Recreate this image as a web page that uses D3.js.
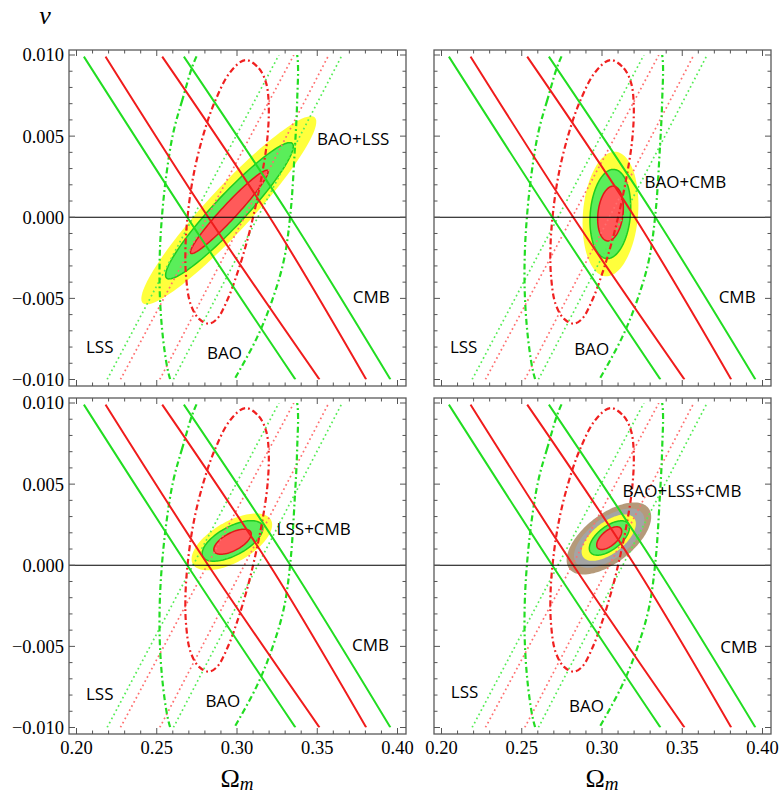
<!DOCTYPE html>
<html>
<head>
<meta charset="utf-8">
<script src="https://cdn.jsdelivr.net/npm/d3@7"></script>
<style>
body { margin: 0; background: #fff; }
</style>
</head>
<body>
<svg id="chart" width="781" height="795"></svg>
<script>
// tick labels
var xTicks = [0.20, 0.25, 0.30, 0.35, 0.40];
var yTicks = [-0.010, -0.005, 0.000, 0.005, 0.010];

// CMB band, solid lines: [Omega_m, nu]
var cmbGreenLeft  = [[0.2046, 0.0099], [0.2690, 0.0], [0.3364, -0.010]];
var cmbRedLeft    = [[0.2181, 0.0099], [0.2821, 0.0], [0.3514, -0.010]];
var cmbRedRight   = [[0.2534, 0.0099], [0.3204, 0.0], [0.3805, -0.010]];
var cmbGreenRight = [[0.2669, 0.0099], [0.3333, 0.0], [0.3956, -0.010]];

// LSS band, dotted lines
var lssGreenLeft  = [[0.2191, -0.010], [0.3261, 0.010]];
var lssRedLeft    = [[0.2274, -0.010], [0.3354, 0.010]];
var lssRedRight   = [[0.2519, -0.010], [0.3572, 0.010]];
var lssGreenRight = [[0.2604, -0.010], [0.3655, 0.010]];

// BAO contours, dot-dashed
var baoRed = [[0.3053, 0.00969], [0.3136, 0.00918], [0.3182, 0.00825], [0.3198, 0.00681],
  [0.3188, 0.00475], [0.3157, 0.0027], [0.3115, 0.00064], [0.3064, -0.00142],
  [0.3001, -0.00348], [0.2939, -0.00512], [0.2877, -0.00625], [0.2824, -0.00656],
  [0.2762, -0.00625], [0.2710, -0.00533], [0.2683, -0.00369], [0.2679, -0.00183],
  [0.2694, 0.00023], [0.2731, 0.0027], [0.2793, 0.00517], [0.2866, 0.00722], [0.2960, 0.00897]];
var baoGreen = [[0.2752, 0.0100], [0.2659, 0.00722], [0.2602, 0.00517], [0.2561, 0.0027],
  [0.2534, 0.00023], [0.2519, -0.00224], [0.2519, -0.00471], [0.2536, -0.00718],
  [0.2565, -0.00924], [0.2586, -0.01006], [0.2640, -0.0115], [0.2760, -0.0122],
  [0.2900, -0.0114], [0.2980, -0.01006], [0.3126, -0.00739], [0.3219, -0.00512],
  [0.3292, -0.00265], [0.3333, 0.00023], [0.3360, 0.00414], [0.3375, 0.00722],
  [0.3375, 0.0100], [0.3320, 0.0120], [0.3100, 0.0128], [0.2880, 0.0118]];

// joint confidence regions: centre, half-width, half-height, correlation
var fillsBaoLss = [
  {level: "3s", cx: 0.2949, cy: 0.00043, a: 0.0545, b: 0.0058, rho: 0.94},
  {level: "2s", cx: 0.2953, cy: 0.00040, a: 0.0398, b: 0.0042, rho: 0.944},
  {level: "1s", cx: 0.2952, cy: 0.00033, a: 0.0242, b: 0.00257, rho: 0.965}
];
var fillsBaoCmb = [
  {level: "3s", cx: 0.3053, cy: 0.00020, a: 0.0174, b: 0.00384, rho: 0.15},
  {level: "2s", cx: 0.3052, cy: 0.00020, a: 0.0127, b: 0.00275, rho: 0.15},
  {level: "1s", cx: 0.3053, cy: 0.00023, a: 0.0080, b: 0.00169, rho: 0.2}
];
var fillsLssCmb = [
  {level: "3s", cx: 0.2968, cy: 0.00144, a: 0.0251, b: 0.00175, rho: 0.6},
  {level: "2s", cx: 0.2972, cy: 0.00150, a: 0.0189, b: 0.00125, rho: 0.62},
  {level: "1s", cx: 0.2972, cy: 0.00145, a: 0.01165, b: 0.00077, rho: 0.62}
];
var fillsAll = [
  {level: "5s", cx: 0.3043, cy: 0.00165, a: 0.02635, b: 0.00222, rho: 0.6},
  {level: "4s", cx: 0.3045, cy: 0.00167, a: 0.02195, b: 0.00183, rho: 0.6},
  {level: "3s", cx: 0.3042, cy: 0.00170, a: 0.0169, b: 0.00143, rho: 0.6},
  {level: "2s", cx: 0.3046, cy: 0.00168, a: 0.0125, b: 0.00106, rho: 0.6},
  {level: "1s", cx: 0.3045, cy: 0.00167, a: 0.0078, b: 0.0007, rho: 0.6}
];

// annotations [text, Omega_m, nu]
var labelsBaoLss = [["BAO+LSS", 0.3724, 0.0048], ["CMB", 0.3836, -0.00488], ["LSS", 0.2145, -0.00796], ["BAO", 0.2922, -0.00835]];
var labelsBaoCmb = [["BAO+CMB", 0.3519, 0.00218], ["CMB", 0.3842, -0.00492], ["LSS", 0.2138, -0.00796], ["BAO", 0.2936, -0.0081]];
var labelsLssCmb = [["LSS+CMB", 0.3478, 0.00222], ["CMB", 0.3832, -0.00493], ["LSS", 0.2145, -0.0079], ["BAO", 0.2912, -0.00836]];
var labelsAll = [["BAO+LSS+CMB", 0.3498, 0.00456], ["CMB", 0.3852, -0.00503], ["LSS", 0.2144, -0.0078], ["BAO", 0.2904, -0.00867]];

var fillColor = {"5s": "#b59a7a", "4s": "#a4a4a4", "3s": "#ffff3c", "2s": "#5aee5a", "1s": "#ff5a5a"};
var edgeColor = {"5s": "none", "4s": "none", "3s": "none", "2s": "#1fcc1f", "1s": "#e01818"};

var panels = [
	{col: 0, row: 0, fills: fillsBaoLss, labels: labelsBaoLss},
	{col: 1, row: 0, fills: fillsBaoCmb, labels: labelsBaoCmb},
	{col: 0, row: 1, fills: fillsLssCmb, labels: labelsLssCmb},
	{col: 1, row: 1, fills: fillsAll, labels: labelsAll}
];

var frameX = [69, 434], frameY = [50, 398];
var frameW = 337, frameH = 336;

var svg = d3.select("#chart");
var fmtY = function(v) { return (v < 0 ? "\u2212" : "") + d3.format(".3f")(Math.abs(v)); };
var fmtX = d3.format(".2f");
var serif = "'Liberation Serif', 'DejaVu Serif', serif";

function ellipsePoints(e) {
	var pts = [];
	var s = Math.sqrt(1 - e.rho * e.rho);
	for (var i = 0; i < 120; i++) {
		var t = i / 120 * 2 * Math.PI;
		pts.push([e.cx + e.a * Math.cos(t), e.cy + e.b * (e.rho * Math.cos(t) + s * Math.sin(t))]);
	}
	return pts;
}

panels.forEach(function(p, idx) {
	var fx = frameX[p.col], fy = frameY[p.row];
	var x = d3.scaleLinear().domain([0.2, 0.4]).range([fx + 7.5, fx + frameW - 8.5]);
	var y = d3.scaleLinear().domain([-0.01, 0.01]).range([fy + 329.5, fy + 5]);
	var line = d3.line().x(function(d) { return x(d[0]); }).y(function(d) { return y(d[1]); });

	var g = svg.append("g");
	var clipId = "clip" + idx;
	g.append("clipPath").attr("id", clipId)
		.append("rect")
		.attr("x", x(0.2)).attr("y", y(0.01))
		.attr("width", x(0.4) - x(0.2)).attr("height", y(-0.01) - y(0.01));

	var plot = g.append("g").attr("clip-path", "url(#" + clipId + ")");

	// filled regions
	plot.selectAll("path.fill").data(p.fills).enter().append("path")
		.attr("class", "fill")
		.attr("d", function(d) { return line.curve(d3.curveLinearClosed)(ellipsePoints(d)); })
		.attr("fill", function(d) { return fillColor[d.level]; })
		.attr("stroke", function(d) { return edgeColor[d.level]; })
		.attr("stroke-width", 1.5);

	// LSS dotted
	line.curve(d3.curveLinear);
	[[lssGreenLeft, "#55ec55"], [lssRedLeft, "#ff6e6e"], [lssRedRight, "#ff6e6e"], [lssGreenRight, "#55ec55"]].forEach(function(l) {
		plot.append("path").attr("d", line(l[0]))
			.attr("fill", "none").attr("stroke", l[1])
			.attr("stroke-width", 1.7).attr("stroke-dasharray", "1.7,3");
	});

	// BAO dot-dashed
	line.curve(d3.curveCatmullRomClosed);
	[[baoGreen, "#22dd22"], [baoRed, "#f02020"]].forEach(function(l) {
		plot.append("path").attr("d", line(l[0]))
			.attr("fill", "none").attr("stroke", l[1])
			.attr("stroke-width", 2.2).attr("stroke-dasharray", "6,3,1.8,3");
	});

	// CMB solid
	line.curve(d3.curveNatural);
	[[cmbGreenLeft, "#22dd22"], [cmbRedLeft, "#f01c1c"], [cmbRedRight, "#f01c1c"], [cmbGreenRight, "#22dd22"]].forEach(function(l) {
		plot.append("path").attr("d", line(l[0]))
			.attr("fill", "none").attr("stroke", l[1])
			.attr("stroke-width", 2);
	});

	// zero line
	g.append("line")
		.attr("x1", fx).attr("x2", fx + frameW)
		.attr("y1", y(0)).attr("y2", y(0))
		.attr("stroke", "#000").attr("stroke-width", 1);

	// frame
	g.append("rect")
		.attr("x", fx).attr("y", fy).attr("width", frameW).attr("height", frameH)
		.attr("fill", "none").attr("stroke", "#5a5a5a").attr("stroke-width", 1.3);

	// ticks on all four sides
	var xMinor = x.ticks(20), yMinor = y.ticks(20);
	var isMajorX = function(v) { return xTicks.some(function(t) { return Math.abs(t - v) < 1e-6; }); };
	var isMajorY = function(v) { return yTicks.some(function(t) { return Math.abs(t - v) < 1e-7; }); };
	xMinor.forEach(function(v) {
		var len = isMajorX(v) ? 6 : 3.5;
		g.append("line").attr("x1", x(v)).attr("x2", x(v)).attr("y1", fy + frameH).attr("y2", fy + frameH - len)
			.attr("stroke", "#555").attr("stroke-width", 1);
		g.append("line").attr("x1", x(v)).attr("x2", x(v)).attr("y1", fy).attr("y2", fy + len)
			.attr("stroke", "#555").attr("stroke-width", 1);
	});
	yMinor.forEach(function(v) {
		var len = isMajorY(v) ? 6 : 3.5;
		g.append("line").attr("x1", fx).attr("x2", fx + len).attr("y1", y(v)).attr("y2", y(v))
			.attr("stroke", "#555").attr("stroke-width", 1);
		g.append("line").attr("x1", fx + frameW).attr("x2", fx + frameW - len).attr("y1", y(v)).attr("y2", y(v))
			.attr("stroke", "#555").attr("stroke-width", 1);
	});

	if (p.col === 0) {
		g.selectAll("text.ylab").data(yTicks).enter().append("text")
			.attr("x", fx - 5).attr("y", function(d) { return y(d); })
			.attr("dy", "0.35em").attr("text-anchor", "end")
			.style("font-family", serif).style("font-size", "18.5px")
			.text(fmtY);
	}
	if (p.row === 1) {
		g.selectAll("text.xlab").data(xTicks).enter().append("text")
			.attr("x", function(d) { return x(d); }).attr("y", fy + frameH + 20)
			.attr("text-anchor", "middle")
			.style("font-family", serif).style("font-size", "18.5px")
			.text(fmtX);
		var t = g.append("text")
			.attr("x", x(0.3)).attr("y", 787)
			.attr("text-anchor", "middle")
			.style("font-family", serif).style("font-size", "26px");
		t.append("tspan").text("\u03A9");
		t.append("tspan").attr("dy", 3).style("font-style", "italic").style("font-size", "19px").text("m");
	}

	// annotations
	g.selectAll("text.ann").data(p.labels).enter().append("text")
		.attr("x", function(d) { return x(d[1]); }).attr("y", function(d) { return y(d[2]); })
		.attr("dy", "0.36em").attr("text-anchor", "middle")
		.style("font-family", "'Open Sans', 'Noto Sans', sans-serif").style("font-size", "17px")
		.text(function(d) { return d[0]; });
});

svg.append("text")
	.attr("x", 45).attr("y", 24).attr("text-anchor", "middle")
	.style("font-family", serif)
	.style("font-style", "italic").style("font-size", "26px")
	.text("\u03BD");
</script>
</body>
</html>
